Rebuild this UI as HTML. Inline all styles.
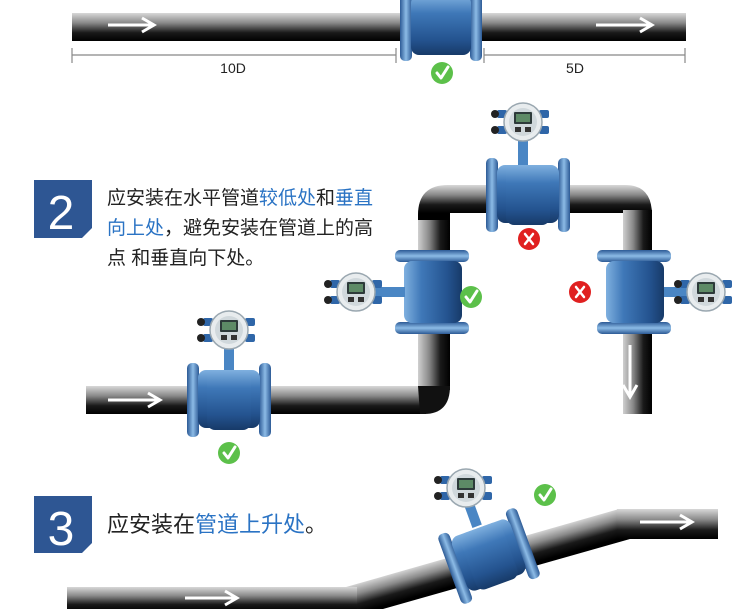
<!DOCTYPE html>
<html><head><meta charset="utf-8"><style>
html,body{margin:0;padding:0;background:#fff;}
svg{display:block}
text{font-family:"Liberation Sans","Noto Sans CJK SC",sans-serif;}
</style></head><body>
<svg width="750" height="609" viewBox="0 0 750 609" xmlns="http://www.w3.org/2000/svg">
<defs>
<linearGradient id="pv" x1="0" y1="0" x2="0" y2="1">
<stop offset="0" stop-color="#d8d8d8"/><stop offset="0.35" stop-color="#8a8a8a"/><stop offset="0.7" stop-color="#1a1a1a"/><stop offset="1" stop-color="#000"/></linearGradient>
<linearGradient id="ph" x1="0" y1="0" x2="1" y2="0">
<stop offset="0" stop-color="#d0d0d0"/><stop offset="0.35" stop-color="#888"/><stop offset="0.7" stop-color="#1a1a1a"/><stop offset="1" stop-color="#000"/></linearGradient>
<linearGradient id="ptop" gradientUnits="userSpaceOnUse" x1="0" y1="185" x2="0" y2="213">
<stop offset="0" stop-color="#d8d8d8"/><stop offset="0.35" stop-color="#8a8a8a"/><stop offset="0.7" stop-color="#1a1a1a"/><stop offset="1" stop-color="#000"/></linearGradient>
<linearGradient id="ps1" gradientUnits="userSpaceOnUse" x1="0" y1="587" x2="0" y2="612">
<stop offset="0" stop-color="#d8d8d8"/><stop offset="0.35" stop-color="#8a8a8a"/><stop offset="0.7" stop-color="#1a1a1a"/><stop offset="1" stop-color="#000"/></linearGradient>
<linearGradient id="ps2" gradientUnits="userSpaceOnUse" x1="480" y1="548" x2="488" y2="576">
<stop offset="0" stop-color="#d8d8d8"/><stop offset="0.35" stop-color="#8a8a8a"/><stop offset="0.7" stop-color="#1a1a1a"/><stop offset="1" stop-color="#000"/></linearGradient>
<linearGradient id="ps3" gradientUnits="userSpaceOnUse" x1="0" y1="509" x2="0" y2="539">
<stop offset="0" stop-color="#d8d8d8"/><stop offset="0.35" stop-color="#8a8a8a"/><stop offset="0.7" stop-color="#1a1a1a"/><stop offset="1" stop-color="#000"/></linearGradient>
<linearGradient id="mb" x1="0" y1="0" x2="0" y2="1">
<stop offset="0" stop-color="#7fb0df"/><stop offset="0.3" stop-color="#3f78b8"/><stop offset="0.75" stop-color="#24538f"/><stop offset="1" stop-color="#173a68"/></linearGradient>
<linearGradient id="mbh" x1="0" y1="0" x2="1" y2="0">
<stop offset="0" stop-color="#7fb0df"/><stop offset="0.3" stop-color="#3f78b8"/><stop offset="0.75" stop-color="#24538f"/><stop offset="1" stop-color="#173a68"/></linearGradient>
<linearGradient id="fl" x1="0" y1="0" x2="1" y2="0">
<stop offset="0" stop-color="#2c5a95"/><stop offset="0.5" stop-color="#8cbbe6"/><stop offset="1" stop-color="#2c5a95"/></linearGradient>
<linearGradient id="flv" x1="0" y1="0" x2="0" y2="1">
<stop offset="0" stop-color="#2c5a95"/><stop offset="0.5" stop-color="#8cbbe6"/><stop offset="1" stop-color="#2c5a95"/></linearGradient>
<g id="mh">
<rect x="-42" y="-37" width="12" height="74" rx="5" fill="url(#fl)"/>
<rect x="30" y="-37" width="12" height="74" rx="5" fill="url(#fl)"/>
<rect x="-31" y="-30" width="62" height="58" rx="8" fill="url(#mb)"/>
<rect x="-22" y="-30" width="44" height="60" rx="8" fill="url(#mb)"/>
</g>
<g id="mv">
<rect x="-37" y="-42" width="74" height="12" rx="5" fill="url(#flv)"/>
<rect x="-37" y="30" width="74" height="12" rx="5" fill="url(#flv)"/>
<rect x="-28" y="-31" width="58" height="62" rx="8" fill="url(#mbh)"/>
</g>
<g id="hd">
<rect x="-26" y="-12" width="10" height="8" rx="2" fill="#2f66a8"/>
<rect x="-26" y="4" width="10" height="8" rx="2" fill="#2f66a8"/>
<rect x="16" y="-12" width="10" height="8" rx="2" fill="#2f66a8"/>
<rect x="16" y="4" width="10" height="8" rx="2" fill="#2f66a8"/>
<circle cx="-28" cy="-8" r="4" fill="#222"/><circle cx="-28" cy="8" r="4" fill="#222"/>
<circle r="19" fill="#e8ecee" stroke="#9aa7b0" stroke-width="1.5"/>
<circle r="14" fill="#d0d8dc"/>
<rect x="-9" y="-10" width="18" height="12" rx="1" fill="#2d3a3a"/>
<rect x="-7" y="-8" width="14" height="8" fill="#5d8a66"/>
<rect x="-8" y="5" width="6" height="5" fill="#333"/><rect x="2" y="5" width="6" height="5" fill="#333"/>
</g>
<g id="ok"><circle r="11" fill="#5cc04a"/><path d="M-5,0 L-1,5 L6,-6" fill="none" stroke="#fff" stroke-width="3" stroke-linecap="round" stroke-linejoin="round"/></g>
<g id="no"><circle r="11" fill="#e02020"/><path d="M-4,-5 L4,5 M4,-5 L-4,5" stroke="#fff" stroke-width="2.5" stroke-linecap="round"/></g>
</defs>

<!-- Section 1 -->
<rect x="72" y="13" width="614" height="28" fill="url(#pv)"/>
<path d="M108 25 H152 M142 18 L154 25 L142 32" stroke="#fff" stroke-width="3" fill="none"/>
<path d="M596 25 H650 M640 18 L652 25 L640 32" stroke="#fff" stroke-width="3" fill="none"/>
<rect x="400" y="-5" width="12" height="66" rx="5" fill="url(#fl)"/>
<rect x="470" y="-5" width="12" height="66" rx="5" fill="url(#fl)"/>
<rect x="411" y="-5" width="60" height="60" rx="8" fill="url(#mb)"/>
<path d="M72 55 H396 M72 48 V63 M396 48 V63 M484 55 H685 M484 48 V63 M685 48 V63" stroke="#888" stroke-width="1.2"/>
<text x="233" y="73" font-size="14" text-anchor="middle" fill="#222">10D</text>
<text x="575" y="73" font-size="14" text-anchor="middle" fill="#222">5D</text>
<use href="#ok" x="442" y="73"/>

<!-- Section 2 -->
<path d="M34 180 H92 V228 L82 238 H34 Z" fill="#2e5693"/>
<text x="61" y="229" font-size="48" text-anchor="middle" fill="#fff">2</text>
<g font-size="19" fill="#222">
<text x="107" y="204">应安装在水平管道<tspan fill="#2a73c4">较低处</tspan>和<tspan fill="#2a73c4">垂直</tspan></text>
<text x="107" y="234"><tspan fill="#2a73c4">向上处</tspan>，避免安装在管道上的高</text>
<text x="107" y="264">点 和垂直向下处。</text>
</g>
<!-- pipes -->
<rect x="86" y="386" width="340" height="28" fill="url(#pv)"/>
<rect x="418" y="210" width="32" height="180" fill="url(#ph)"/>
<path d="M418 386 H450 Q450 414 424 414 H420 Z" fill="#111"/>
<path d="M418 215 Q418 185 448 185 H625 Q652 185 652 215 V220 H623 V213 H450 V220 H418 Z" fill="url(#ptop)"/>
<rect x="623" y="210" width="29" height="204" fill="url(#ph)"/>
<path d="M108 400 H158 M148 393 L160 400 L148 407" stroke="#fff" stroke-width="3" fill="none"/>
<path d="M630 345 V395 M623 385 L630 397 L637 385" stroke="#fff" stroke-width="3" fill="none"/>
<!-- meters -->
<rect x="224" y="340" width="10" height="30" fill="#4a86c4"/>
<use href="#mh" x="229" y="400"/>
<use href="#hd" x="229" y="330"/>
<use href="#ok" x="229" y="453"/>

<rect x="518" y="135" width="10" height="30" fill="#4a86c4"/>
<use href="#mh" x="528" y="195"/>
<use href="#hd" x="523" y="122"/>
<use href="#no" x="529" y="239"/>

<use href="#mv" x="432" y="292"/>
<rect x="370" y="287" width="35" height="10" fill="#4a86c4"/>
<use href="#hd" x="356" y="292"/>
<use href="#ok" x="471" y="297"/>

<use href="#mv" x="634" y="292"/>
<rect x="664" y="287" width="30" height="10" fill="#4a86c4"/>
<use href="#hd" x="706" y="292"/>
<use href="#no" x="580" y="292"/>

<!-- Section 3 -->
<path d="M34 496 H92 V543 L82 553 H34 Z" fill="#2e5693"/>
<text x="61" y="545" font-size="48" text-anchor="middle" fill="#fff">3</text>
<text x="107" y="532" font-size="22" fill="#222">应安装在<tspan fill="#2a73c4">管道上升处</tspan>。</text>
<path d="M346 587 L619 509 L630 539 L383 609 L346 609 Z" fill="url(#ps2)"/>
<rect x="67" y="587" width="290" height="22" fill="url(#ps1)"/>
<rect x="617" y="509" width="101" height="30" fill="url(#ps3)"/>
<path d="M185 598 H235 M225 591 L237 598 L225 605" stroke="#fff" stroke-width="3" fill="none"/>
<path d="M640 522 H690 M680 515 L692 522 L680 529" stroke="#fff" stroke-width="3" fill="none"/>
<g transform="translate(489,556) rotate(-20)">
<rect x="-6" y="-72" width="10" height="40" fill="#4a86c4"/>
<use href="#mh"/>
</g>
<use href="#hd" x="466" y="488"/>
<use href="#ok" x="545" y="495"/>
</svg>
</body></html>
